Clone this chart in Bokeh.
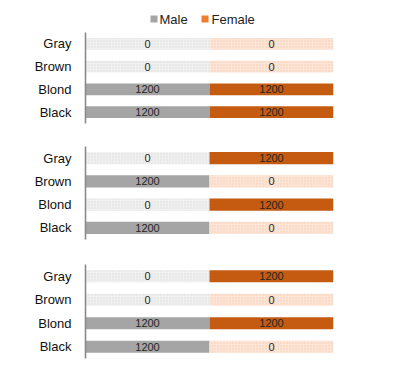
from bokeh.plotting import figure
from bokeh.layouts import column
from bokeh.models import ColumnDataSource, Range1d
from bokeh.core.properties import value
from bokeh.embed import file_html
from bokeh.resources import INLINE

categories = ["Black", "Blond", "Brown", "Gray"]
male_1 = [1200, 1200, 0, 0]
female_1 = [1200, 1200, 0, 0]
male_2 = [1200, 0, 1200, 0]
female_2 = [0, 1200, 0, 1200]
male_3 = [1200, 1200, 0, 0]
female_3 = [0, 1200, 0, 1200]
series_names = ["Male", "Female"]

MALE = "#a5a5a5"
FEMALE = "#c55a11"
FEMALE_LEG = "#ed7d31"
MALE_ZERO = "#f0f0f0"
MALE_DOT = "#dcdcdc"
FEMALE_ZERO = "#fce4d6"
FEMALE_DOT = "#f5cdb2"
FONT = "Liberation Sans"

W = 391
LEFT = 85
FRAME_W = 248
RIGHT = W - LEFT - FRAME_W
all_vals = male_1 + female_1 + male_2 + female_2 + male_3 + female_3
seg = max(all_vals)


def panel(male, female, top, frame_h, bottom):
    p = figure(width=W, height=top + frame_h + bottom, y_range=categories,
               x_range=Range1d(0, 2 * seg), output_backend="svg",
               toolbar_location=None, min_border_left=LEFT,
               min_border_right=RIGHT, min_border_top=top,
               min_border_bottom=bottom)
    p.outline_line_color = None
    p.xaxis.visible = False
    p.grid.visible = False
    p.y_range.range_padding = 0
    yax = p.yaxis[0]
    yax.major_tick_line_color = None
    yax.minor_tick_line_color = None
    yax.major_tick_out = 0
    yax.major_tick_in = 0
    yax.axis_line_color = "#8a8a8a"
    yax.axis_line_width = 1.6
    yax.major_label_text_font = FONT
    yax.major_label_text_font_size = "13px"
    yax.major_label_text_color = "#111111"
    yax.major_label_standoff = 14

    for vals, x0, full, zero, dot in ((male, 0, MALE, MALE_ZERO, MALE_DOT),
                                      (female, seg, FEMALE, FEMALE_ZERO, FEMALE_DOT)):
        src = ColumnDataSource(dict(
            y=categories,
            left=[x0] * len(vals),
            right=[x0 + (v if v > 0 else seg) for v in vals],
            fill=[full if v > 0 else zero for v in vals],
            hatch=[" " if v > 0 else "." for v in vals],
            cx=[x0 + seg / 2] * len(vals),
            lab=[str(v) for v in vals],
        ))
        p.hbar(y="y", left="left", right="right", height=0.52, source=src,
               fill_color="fill", line_color=None, hatch_pattern="hatch",
               hatch_color=dot, hatch_scale=3, hatch_weight=0.6)
        p.text(x="cx", y="y", text="lab", source=src, text_align="center",
               text_baseline="middle", text_font=value(FONT),
               text_font_size="11px", text_color="#262626")
    return p


LEG_H = 30
# legend strip: frame aligned with the panels, x in page pixels
leg = figure(width=W, height=LEG_H, x_range=Range1d(LEFT, LEFT + FRAME_W),
             y_range=Range1d(0, LEG_H), output_backend="svg",
             toolbar_location=None, min_border_left=LEFT, min_border_right=RIGHT,
             min_border_top=0, min_border_bottom=0)
leg.outline_line_color = None
leg.axis.visible = False
leg.grid.visible = False
leg_src = ColumnDataSource(dict(
    sx=[153.5, 204.5], tx=[159, 211], y=[11.5, 11.5],
    color=[MALE, FEMALE_LEG], label=series_names))
leg.rect(x="sx", y="y", width=7, height=7, fill_color="color", line_color=None,
         source=leg_src)
leg.text(x="tx", y="y", text="label", source=leg_src, text_baseline="middle",
         text_align="left", text_font=value(FONT), text_font_size="13px",
         text_color="#222222")

p1 = panel(male_1, female_1, 2, 91, 11)
p2 = panel(male_2, female_2, 12, 93, 12)
p3 = panel(male_3, female_3, 13, 94, 8)

layout = column(leg, p1, p2, p3, spacing=0)
open("out.html", "w").write(file_html(layout, INLINE))
